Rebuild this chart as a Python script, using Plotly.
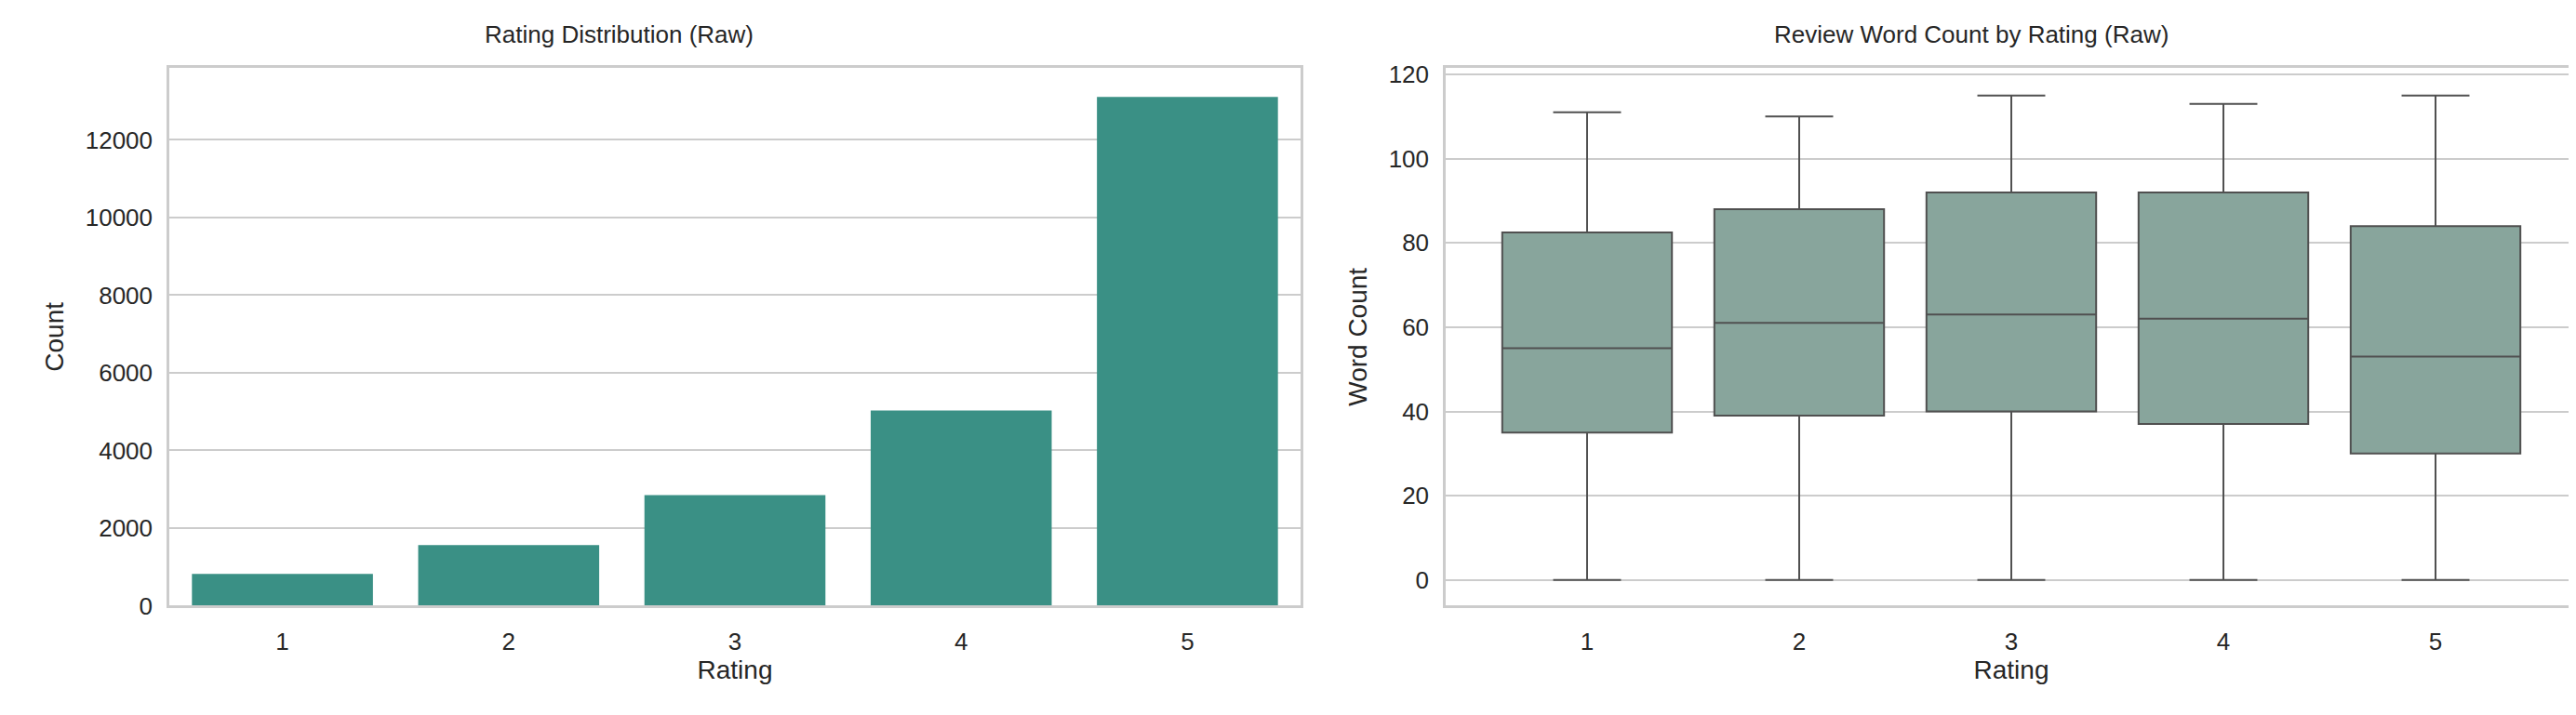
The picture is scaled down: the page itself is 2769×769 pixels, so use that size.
import plotly.graph_objects as go
from plotly.subplots import make_subplots

ratings = ["1", "2", "3", "4", "5"]
counts = [820, 1560, 2850, 5030, 13110]
wc_low = [0, 0, 0, 0, 0]
wc_q1 = [35, 39, 40, 37, 30]
wc_med = [55, 61, 63, 62, 53]
wc_q3 = [82.5, 88, 92, 92, 84]
wc_high = [111, 110, 115, 113, 115]

fig = make_subplots(rows=1, cols=2, horizontal_spacing=0.05,
                    subplot_titles=("Rating Distribution (Raw)", "Review Word Count by Rating (Raw)"))
fig.add_trace(go.Bar(x=ratings, y=counts, marker_color="#3a9085", marker_line_width=0,
                     width=0.8, showlegend=False), 1, 1)
fig.add_trace(go.Box(x=ratings, q1=wc_q1, median=wc_med, q3=wc_q3, lowerfence=wc_low,
                     upperfence=wc_high, fillcolor="#88a59c", line=dict(color="#505050", width=2),
                     whiskerwidth=0.4, width=0.8, showlegend=False), 1, 2)

font = "Arial, Liberation Sans, sans-serif"
fig.update_layout(width=2769, height=769, plot_bgcolor="white", paper_bgcolor="white",
                  margin=dict(l=0, r=0, t=0, b=0),
                  font=dict(family=font, size=26, color="#262626"))
fig.layout.xaxis.domain = [174/2769, 1390/2769]
fig.layout.xaxis2.domain = [1546/2769, 2762/2769]
fig.layout.yaxis.domain = [1 - 655/769, 1 - 59/769]
fig.layout.yaxis2.domain = [1 - 655/769, 1 - 59/769]
for a in fig.layout.annotations:
    a.font = dict(size=26, color="#262626", family=font)
    a.y = 1 - 22/769
    a.yanchor = "middle"
    a.yref = "paper"
ax = dict(showline=True, mirror=True, linecolor="#cccccc", linewidth=2.5, ticks="",
          tickfont=dict(size=26), title_font=dict(size=28), zeroline=False)
fig.update_xaxes(**ax, showgrid=False, title_text="Rating", title_standoff=6, ticklabelstandoff=14)
fig.update_yaxes(**ax, showgrid=True, gridcolor="#cccccc", gridwidth=2, ticklabelstandoff=10)
fig.update_yaxes(range=[0, 13850], dtick=2000, tickformat="d", title_text="Count", row=1, col=1)
fig.update_yaxes(range=[-6.1, 121.5], dtick=20, title_text="Word Count", row=1, col=2)
fig.write_html("out.html")
